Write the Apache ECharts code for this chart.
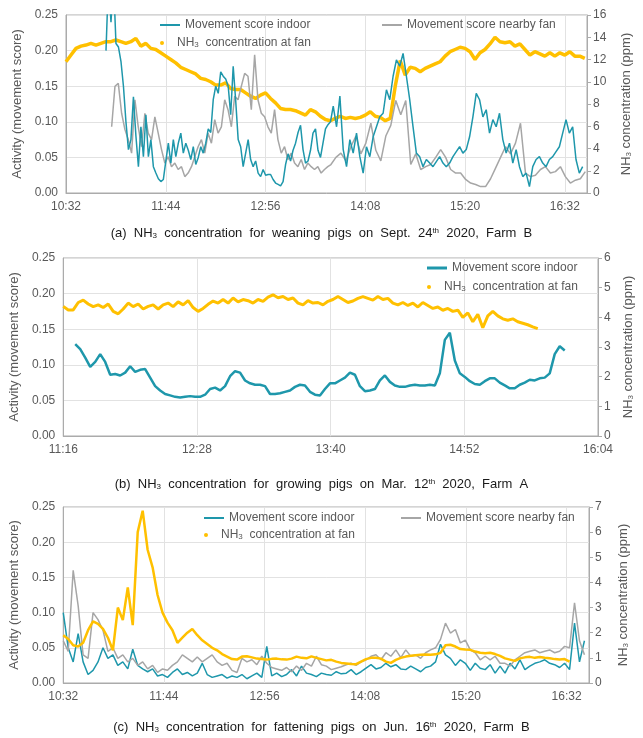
<!DOCTYPE html>
<html>
<head>
<meta charset="utf-8">
<script src="https://cdn.jsdelivr.net/npm/echarts@6/dist/echarts.min.js"></script>
<style>
  html, body { margin: 0; background: #fff; }
  #main { width: 643px; height: 738px; }
</style>
</head>
<body>
<div id="main"></div>
<script>
// time axes are minutes after the first tick label
var aStart = 632, bStart = 676, cStart = 632;   // 10:32, 11:16, 10:32

// (a) weaning pigs, Sept. 24th 2020, Farm B
// indoor score: first part every 1.8 min, second part every 2.4 min
var aIndoorEarly = [0.20,0.30,0.24,0.30,0.21,0.205,0.185,0.15,0.10,0.061,
  0.075,0.135,0.08,0.037,0.093,0.051,0.11,0.051,0.075,0.037,
  0.028,0.02,0.016,0.019,0.045,0.07,0.042,0.075,0.051,0.07,
  0.084,0.056,0.07,0.06,0.047,0.065,0.04,0.05,0.065,0.056,
  0.07,0.09,0.085,0.131,0.15,0.14,0.17,0.164,0.16,0.15,
  0.11,0.178,0.13,0.075,0.065,0.037,0.056,0.075,0.047,0.037,
  0.045,0.028,0.023,0.033,0.025,0.026,0.026,0.019,0.014,0.012,
  0.01,0.016,0.04,0.055,0.045,0.06,0.07,0.085,0.095,0.061,
  0.042,0.045,0.06,0.084,0.09,0.06,0.05,0.07,0.09,0.096,0.10];
var aIndoorLate = [0.122,0.093,0.136,0.061,0.037,0.075,0.056,0.084,0.051,0.028,
  0.065,0.051,0.079,0.093,0.107,0.112,0.145,0.131,0.164,0.187,
  0.178,0.196,0.164,0.131,0.093,0.056,0.051,0.037,0.047,0.042,
  0.037,0.044,0.051,0.042,0.037,0.042,0.051,0.058,0.065,0.056,
  0.061,0.079,0.107,0.140,0.131,0.107,0.117,0.084,0.103,0.093,
  0.112,0.075,0.056,0.070,0.042,0.061,0.037,0.023,0.028,0.009,
  0.037,0.047,0.051,0.042,0.037,0.047,0.051,0.058,0.065,0.084,
  0.103,0.084,0.093,0.047,0.028,0.037];
// nearby-fan score: first part every 2.4 min, second part every 3.6 min
var aFanEarly = [0.093,0.15,0.154,0.112,0.089,0.075,0.056,0.131,0.093,0.065,
  0.112,0.084,0.075,0.107,0.084,0.061,0.042,0.051,0.037,0.042,
  0.033,0.037,0.023,0.028,0.037,0.051,0.065,0.075,0.056,0.084,
  0.07,0.103,0.084,0.093,0.131,0.117,0.093,0.136,0.131,0.15,
  0.168,0.164,0.117,0.194,0.131,0.112,0.107,0.093,0.084,0.117,
  0.075,0.056,0.065,0.047,0.056,0.042,0.037,0.047,0.033,0.042,
  0.037,0.033,0.037,0.028,0.033,0.037];
var aFanLate = [0.04,0.05,0.056,0.045,0.065,0.08,0.055,0.07,0.098,0.06,
  0.045,0.08,0.095,0.13,0.11,0.13,0.04,0.055,0.033,0.037,
  0.04,0.05,0.061,0.05,0.033,0.028,0.028,0.019,0.014,0.012,
  0.009,0.009,0.02,0.035,0.05,0.065,0.055,0.07,0.098,0.028,
  0.023,0.025,0.033,0.037,0.028,0.03,0.037,0.023,0.014,0.018,0.02,0.03];
// NH3 every 3.6 min from 10:32
var aNh3 = [11.8,12.4,13.0,13.2,13.3,13.45,13.3,13.45,13.6,13.6,13.75,13.6,13.45,13.6,13.9,13.2,13.45,13.0,12.9,12.6,
  12.3,12.0,11.7,11.3,11.1,10.9,10.7,10.3,10.2,10.0,9.7,9.7,9.9,9.4,9.3,9.3,9.0,8.7,8.5,8.8,
  9.0,8.5,8.1,7.6,7.5,7.5,7.4,7.2,7.0,7.5,7.3,6.9,6.6,6.5,6.7,6.9,6.7,6.8,6.7,6.8,
  7.0,7.3,6.9,6.8,6.5,6.7,9.6,11.9,10.6,11.3,11.2,10.9,11.2,11.4,11.6,11.8,12.3,12.7,12.9,13.1,
  13.0,12.7,12.0,12.6,12.9,13.4,14.0,13.6,13.5,13.6,13.2,13.4,12.9,12.4,12.7,12.5,12.3,12.6,12.3,12.6,
  12.4,12.7,12.3,12.3,12.1];

// (b) growing pigs, Mar. 12th 2020, Farm A  (samples every 2.69 min)
var bStep = 2.69;
var bIndoorFrom = 6.45;
var bIndoor = [0.129,0.122,0.110,0.097,0.104,0.115,0.104,0.086,0.087,0.085,0.089,0.098,0.090,0.093,0.094,0.082,0.070,0.064,0.059,0.057,
  0.055,0.054,0.055,0.056,0.055,0.055,0.058,0.066,0.068,0.064,0.070,0.084,0.091,0.089,0.078,0.074,0.072,0.072,0.070,0.059,
  0.059,0.060,0.062,0.064,0.069,0.072,0.071,0.062,0.058,0.057,0.066,0.074,0.074,0.078,0.082,0.089,0.086,0.070,0.063,0.064,
  0.066,0.078,0.085,0.076,0.071,0.069,0.069,0.071,0.072,0.071,0.071,0.072,0.071,0.088,0.135,0.145,0.106,0.088,0.083,0.077,
  0.073,0.072,0.077,0.081,0.081,0.075,0.071,0.067,0.067,0.072,0.075,0.079,0.078,0.081,0.082,0.088,0.115,0.126,0.120];
var bNh3 = [4.37,4.25,4.25,4.5,4.58,4.45,4.36,4.42,4.33,4.45,4.2,4.12,4.28,4.48,4.36,4.45,4.28,4.37,4.42,4.28,
  4.42,4.48,4.36,4.52,4.42,4.56,4.33,4.2,4.3,4.44,4.55,4.48,4.6,4.48,4.65,4.52,4.6,4.56,4.48,4.6,
  4.54,4.68,4.76,4.66,4.7,4.6,4.65,4.48,4.42,4.56,4.48,4.5,4.42,4.54,4.6,4.7,4.6,4.5,4.55,4.64,
  4.7,4.64,4.58,4.7,4.6,4.64,4.48,4.42,4.5,4.4,4.48,4.35,4.5,4.4,4.3,4.35,4.24,4.3,4.2,4.24,
  4.0,4.15,3.85,4.1,3.65,4.05,4.2,4.05,3.95,3.9,3.95,3.85,3.8,3.75,3.68,3.62];

// (c) fattening pigs, Jun. 16th 2020, Farm B  (samples every 3.55 min)
var cStep = 3.55;
var cIndoor = [0.10,0.05,0.03,0.07,0.03,0.012,0.018,0.03,0.05,0.035,0.04,0.025,0.03,0.02,0.048,0.025,0.02,0.016,0.02,0.01,
  0.012,0.008,0.015,0.02,0.012,0.015,0.01,0.014,0.028,0.012,0.008,0.01,0.012,0.007,0.01,0.008,0.012,0.006,0.01,0.014,
  0.008,0.052,0.01,0.014,0.009,0.012,0.019,0.01,0.024,0.014,0.012,0.009,0.014,0.012,0.011,0.016,0.013,0.014,0.019,0.012,
  0.016,0.021,0.026,0.02,0.022,0.028,0.023,0.026,0.02,0.019,0.024,0.02,0.016,0.022,0.024,0.03,0.055,0.04,0.035,0.025,
  0.033,0.028,0.018,0.028,0.021,0.019,0.026,0.014,0.024,0.014,0.028,0.02,0.033,0.019,0.024,0.028,0.03,0.033,0.028,0.026,
  0.022,0.028,0.019,0.085,0.03,0.06];
var cFan = [0.06,0.045,0.16,0.11,0.04,0.035,0.10,0.09,0.075,0.045,0.05,0.035,0.04,0.03,0.035,0.025,0.03,0.02,0.025,0.015,
  0.02,0.018,0.025,0.03,0.04,0.035,0.03,0.037,0.03,0.035,0.04,0.03,0.025,0.028,0.018,0.015,0.035,0.03,0.033,0.026,
  0.038,0.028,0.022,0.02,0.018,0.022,0.016,0.024,0.018,0.028,0.024,0.038,0.026,0.024,0.019,0.021,0.023,0.026,0.028,0.025,
  0.03,0.033,0.038,0.04,0.033,0.043,0.038,0.047,0.036,0.047,0.038,0.04,0.035,0.043,0.047,0.05,0.062,0.085,0.071,0.076,
  0.057,0.061,0.047,0.043,0.033,0.038,0.033,0.038,0.028,0.028,0.024,0.033,0.038,0.043,0.045,0.047,0.043,0.045,0.047,0.043,
  0.045,0.052,0.05,0.114,0.06,0.04];
var cNh3 = [1.9,1.75,1.5,1.45,1.6,2.1,2.45,2.35,2.15,1.8,1.3,3.0,2.5,3.8,2.3,6.0,6.85,5.3,4.6,3.5,
  2.8,2.4,2.1,1.6,1.8,2.0,2.15,1.9,1.7,1.55,1.4,1.3,1.15,1.05,0.95,0.93,1.05,1.06,1.02,0.97,
  0.95,0.93,0.96,0.97,0.94,0.93,0.97,1.05,1.0,0.98,1.06,1.0,0.95,0.9,0.92,0.85,0.8,0.78,0.76,0.75,
  0.85,0.95,1.0,1.0,0.97,0.85,0.8,0.92,1.0,1.05,1.08,1.1,1.12,1.13,1.12,1.14,1.2,1.5,1.52,1.45,
  1.35,1.33,1.32,1.25,1.2,1.18,1.2,1.15,1.08,0.98,0.93,0.88,0.98,1.02,1.04,1.0,1.03,1.0,0.98,0.95,
  0.93,0.95,0.85];

var TEAL = '#1e97ab', GRAY = '#a6a6a6', GOLD = '#ffc000';
var TXT = '#595959', FONT = 'Liberation Sans';
var INDOOR = 'Movement score indoor', FAN = 'Movement score nearby fan', NH3 = 'NH3 concentration at fan';

function pts(from, step, vals) {
  return vals.map(function (v, i) { return [from + i * step, v]; });
}
function clock(offset) {
  return function (v) {
    var m = Math.round(v + offset);
    return Math.floor(m / 60) + ':' + ('0' + m % 60).slice(-2);
  };
}

var subRich = {
  sub: { fontSize: 8, lineHeight: 8, verticalAlign: 'bottom', color: TXT, fontFamily: FONT },
  n: { fontSize: 13, color: TXT, fontFamily: FONT }
};

function xAx(idx, max, offset, showMax) {
  return {
    gridIndex: idx, type: 'value', min: 0, max: max, interval: 72,
    axisLine: { show: true, lineStyle: { color: '#ababab' } },
    axisTick: { show: false },
    axisLabel: { formatter: clock(offset), color: TXT, fontSize: 12, fontFamily: FONT, margin: 8, showMaxLabel: showMax },
    splitLine: { show: true, lineStyle: { color: '#e2e2e2' } }
  };
}
function leftAx(idx, gap) {
  return {
    gridIndex: idx, type: 'value', position: 'left', min: 0, max: 0.25, interval: 0.05,
    name: 'Activity (movement score)', nameLocation: 'middle', nameGap: gap,
    nameTextStyle: { color: TXT, fontSize: 13, fontFamily: FONT },
    axisLine: { show: true, lineStyle: { color: '#ababab' } },
    axisTick: { show: false },
    axisLabel: { formatter: function (v) { return v.toFixed(2); }, color: TXT, fontSize: 12, fontFamily: FONT, margin: 8 },
    splitLine: { show: true, lineStyle: { color: '#e2e2e2' } }
  };
}
function rightAx(idx, max, interval, gap) {
  return {
    gridIndex: idx, type: 'value', position: 'right', min: 0, max: max, interval: interval,
    name: '{n|NH}{sub|3}{n| concentration (ppm)}', nameLocation: 'middle', nameGap: gap,
    nameTextStyle: { color: TXT, fontSize: 13, fontFamily: FONT, rich: subRich },
    axisLine: { show: true, lineStyle: { color: '#ababab' } },
    axisTick: { show: true, length: 4, lineStyle: { color: '#ababab' } },
    axisLabel: { color: TXT, fontSize: 12, fontFamily: FONT, margin: 6 },
    splitLine: { show: false }
  };
}
// one legend block per entry, so lines and the dot can have their own icon size
function legend(left, top, name, h) {
  var isDot = name === NH3;
  return {
    left: left, top: top, padding: 0, itemWidth: 20, itemHeight: isDot ? 4 : h,
    data: [{ name: name, icon: isDot ? 'circle' : 'rect' }],
    formatter: function (n) { return n === NH3 ? '{n|NH}{sub|3}{n|  concentration at fan}' : n; },
    textStyle: { color: TXT, fontSize: 12, fontFamily: FONT, rich: {
      sub: { fontSize: 8, lineHeight: 8, verticalAlign: 'bottom', color: TXT, fontFamily: FONT },
      n: { fontSize: 12, color: TXT, fontFamily: FONT } } }
  };
}
function line(name, color, width, x, y, data, z) {
  return {
    name: name, type: 'line', xAxisIndex: x, yAxisIndex: y, data: data, showSymbol: false, symbol: 'none',
    lineStyle: { color: color, width: width }, itemStyle: { color: color }, z: z, animation: false
  };
}
function caption(text, top) {
  return {
    text: text, left: 'center', top: top,
    textStyle: { color: '#1a1a1a', fontSize: 13, fontWeight: 'normal', fontFamily: FONT,
      rich: {
        t: { fontSize: 13, color: '#1a1a1a', fontFamily: FONT },
        sub: { fontSize: 8, lineHeight: 8, verticalAlign: 'bottom', color: '#1a1a1a', fontFamily: FONT },
        sup: { fontSize: 8, lineHeight: 8, verticalAlign: 'top', color: '#1a1a1a', fontFamily: FONT }
      } }
  };
}

var myChart = echarts.init(document.getElementById('main'));

var option = {
  backgroundColor: '#fff',
  animation: false,
  title: [
    caption('{t|(a)  NH}{sub|3}{t|  concentration  for  weaning  pigs  on  Sept.  24}{sup|th}{t|  2020,  Farm  B}', 222),
    caption('{t|(b)  NH}{sub|3}{t|  concentration  for  growing  pigs  on  Mar.  12}{sup|th}{t|  2020,  Farm  A}', 473),
    caption('{t|(c)  NH}{sub|3}{t|  concentration  for  fattening  pigs  on  Jun.  16}{sup|th}{t|  2020,  Farm  B}', 716)
  ],
  grid: [
    { left: 66, top: 15, width: 521, height: 178, show: true, borderColor: '#ababab', borderWidth: 1 },
    { left: 62, top: 258, width: 536, height: 178, show: true, borderColor: '#ababab', borderWidth: 1 },
    { left: 59, top: 507, width: 530, height: 176, show: true, borderColor: '#ababab', borderWidth: 1 }
  ],
  xAxis: [xAx(0, 376, aStart, false), xAx(1, 288, bStart, true), xAx(2, 376, cStart, false)],
  yAxis: [leftAx(0, 41), rightAx(0, 16, 2, 33), leftAx(1, 37), rightAx(1, 6, 1, 24), leftAx(2, 34), rightAx(2, 7, 1, 28)],
  legend: [
    legend(160, 19, INDOOR, 2),
    legend(160, 37, NH3),
    legend(382, 19, FAN, 2),
    legend(427, 262, INDOOR, 3),
    legend(427, 281, NH3),
    legend(204, 512, INDOOR, 2),
    legend(204, 529, NH3),
    legend(401, 512, FAN, 2)
  ],
  series: [
    line(NH3, GOLD, 3.5, 0, 1, pts(0, 3.6, aNh3), 2),
    line(FAN, GRAY, 1.5, 0, 0, pts(32.94, 2.4, aFanEarly).concat(pts(191.2, 3.6, aFanLate)), 3),
    line(INDOOR, TEAL, 1.5, 0, 0, pts(28.86, 1.8, aIndoorEarly).concat(pts(192.86, 2.4, aIndoorLate)), 4),
    line(NH3, GOLD, 3, 1, 3, pts(0, bStep, bNh3), 2),
    line(INDOOR, TEAL, 2.5, 1, 2, pts(bIndoorFrom, bStep, bIndoor), 4),
    line(INDOOR, TEAL, 1.5, 2, 4, pts(0, cStep, cIndoor), 2),
    line(FAN, GRAY, 1.5, 2, 4, pts(0, cStep, cFan), 3),
    line(NH3, GOLD, 2.5, 2, 5, pts(0, cStep, cNh3), 4)
  ]
};

myChart.setOption(option);
</script>
</body>
</html>
